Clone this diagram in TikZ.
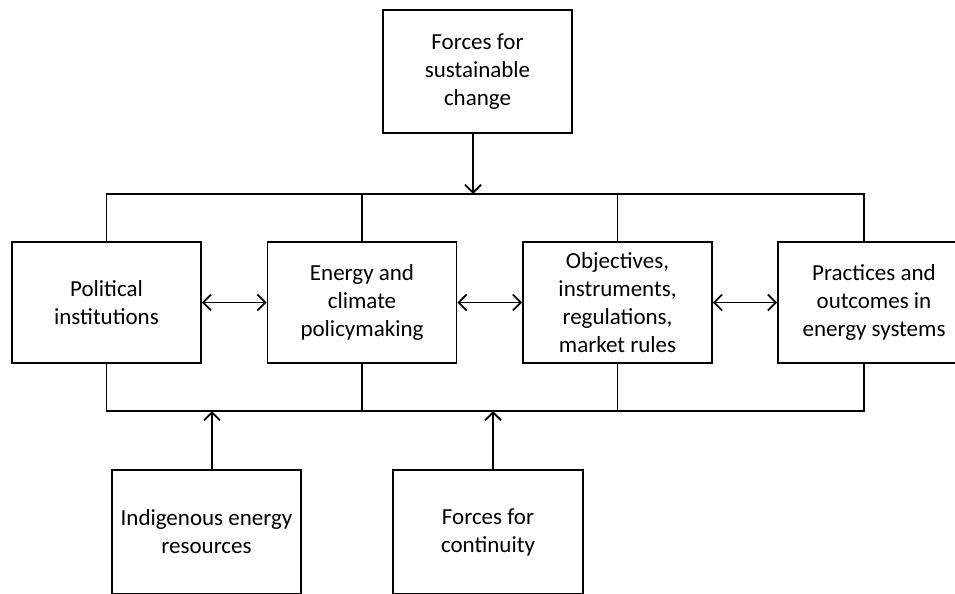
\documentclass[tikz,border=0pt]{standalone}
\usepackage{fontspec}
\setmainfont{Carlito}
\usetikzlibrary{arrows.meta}
\begin{document}
\begin{tikzpicture}[x=0.5pt, y=-0.5pt, line width=0.9pt,
	>={Straight Barb[length=4pt,width=8pt]},
	every node/.style={draw, align=center, font=\fontsize{11.5}{14}\selectfont,
		minimum width=94.5pt, minimum height=60.5pt, inner sep=2pt}]
	\useasboundingbox (0,0) rectangle (955,594);
	\node at (477.5, 71.5) (F)	[minimum height=61.5pt] {Forces for\\sustainable\\change};
	\node at (106.5, 302.5) (PI)	{Political\\institutions};
	\node at (362, 302.5) (EP)	{Energy and\\climate\\policymaking};
	\node at (617.5, 302.5) (OI)	{Objectives,\\instruments,\\regulations,\\market rules};
	\node at (874, 302.5) (PO)	[minimum width=96pt] {Practices and\\outcomes in\\energy systems};
	\node at (206.5, 532) (IE)	[minimum height=62pt] {Indigenous energy\\resources};
	\node at (488, 532) (FC)	[minimum height=62pt, minimum width=95pt] {Forces for\\continuity};

	\coordinate (T) at (473, 194);
	\coordinate (TR) at (864, 194);
	\coordinate (BR) at (864, 411);
	\coordinate (B1) at (212, 411);
	\coordinate (B2) at (493, 411);

	\draw (PI.north) |- (TR) -- (TR |- PO.north);
	\draw (EP.north) -- (EP.north |- TR) (OI.north) -- (OI.north |- TR);
	\draw (PI.south) |- (BR) -- (BR |- PO.south);
	\draw (EP.south) -- (EP.south |- BR) (OI.south) -- (OI.south |- BR);

	\draw [->] (F.south -| T) -- (T);
	\draw [->] (IE.north -| B1) -- (B1);
	\draw [->] (FC.north -| B2) -- (B2);

	\draw [<->] (PI) -- (EP);
	\draw [<->] (EP) -- (OI);
	\draw [<->] (OI) -- (PO);
\end{tikzpicture}
\end{document}
